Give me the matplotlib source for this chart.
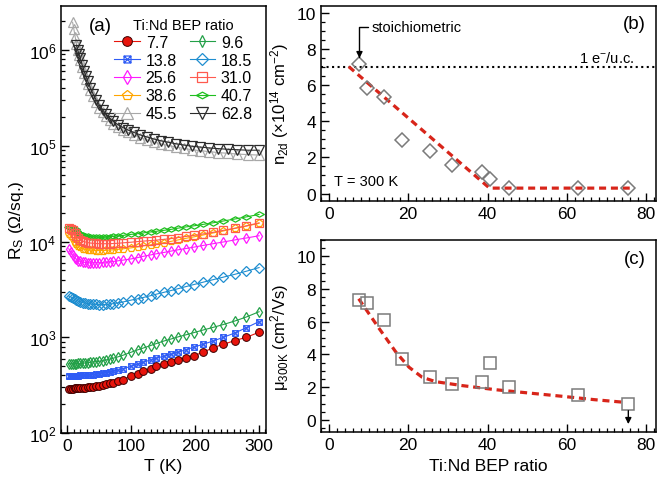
import numpy as np
import matplotlib.pyplot as plt
from matplotlib.path import Path
from matplotlib.ticker import MultipleLocator, LogLocator, NullFormatter

plt.rcParams['font.family'] = ['Liberation Sans', 'DejaVu Sans']
plt.rcParams['mathtext.fontset'] = 'custom'
plt.rcParams['mathtext.rm'] = 'Liberation Sans'
plt.rcParams['mathtext.it'] = 'Liberation Sans:italic'
plt.rcParams['mathtext.default'] = 'regular'
plt.rcParams['axes.linewidth'] = 1.1

# ---- panel (a): sheet resistance vs temperature ----
T = [2, 5, 8, 11, 14, 17, 20, 24, 28, 32, 36, 40, 45, 50, 55, 60, 66, 72, 79, 87,
     100, 110, 118, 130, 139, 151, 162, 173, 185, 198, 212, 228, 244, 262, 280, 300]

rs_7p7 = [292, 292, 292, 293, 293, 294, 295, 297, 299, 301, 303, 306, 309, 313, 318, 323, 330, 337, 346, 360,
          396, 418, 440, 472, 500, 525, 553, 580, 615, 645, 695, 780, 845, 925, 1000, 1130]
rs_9p6 = [530, 530, 530, 531, 532, 533, 535, 538, 541, 544, 548, 552, 557, 563, 570, 580, 592, 606, 625, 650,
          700, 740, 770, 820, 860, 915, 960, 1010, 1060, 1120, 1190, 1270, 1360, 1480, 1630, 1850]
rs_13p8 = [398, 398, 398, 398, 399, 399, 400, 401, 402, 403, 405, 407, 410, 414, 419, 425, 433, 443, 455, 470,
           500, 525, 548, 580, 605, 635, 665, 700, 740, 790, 845, 915, 1000, 1110, 1260, 1460]
rs_18p5 = [2700, 2650, 2580, 2500, 2440, 2390, 2350, 2310, 2280, 2250, 2230, 2215, 2205, 2200, 2200, 2210,
           2225, 2250, 2290, 2340, 2450, 2530, 2600, 2720, 2820, 2950, 3080, 3220, 3380, 3560, 3760, 4000,
           4250, 4550, 4900, 5350]
rs_25p6 = [8400, 7800, 7200, 6800, 6500, 6300, 6200, 6100, 6050, 6000, 6000, 6000, 6000, 6000, 6050, 6100,
           6150, 6200, 6300, 6400, 6600, 6800, 7000, 7250, 7450, 7700, 7950, 8200, 8450, 8750, 9100, 9500,
           9900, 10400, 10900, 11500]
rs_31p0 = [13700, 13600, 13200, 12300, 11400, 10800, 10400, 10100, 9900, 9750, 9650, 9600, 9550, 9500, 9500,
           9500, 9500, 9550, 9600, 9700, 9850, 10000, 10100, 10250, 10350, 10550, 10750, 11000, 11300, 11600,
           12000, 12500, 13100, 13800, 14600, 15700]
rs_38p6 = [12000, 11500, 10800, 10000, 9400, 9000, 8700, 8450, 8300, 8200, 8150, 8100, 8050, 8050, 8050, 8100,
           8150, 8200, 8300, 8400, 8600, 8800, 9000, 9250, 9450, 9750, 10050, 10400, 10800, 11200, 11700,
           12300, 12900, 13700, 14500, 15500]
rs_40p7 = [14300, 14200, 14000, 13500, 12900, 12400, 12000, 11700, 11500, 11350, 11250, 11200, 11150, 11150,
           11150, 11200, 11250, 11350, 11450, 11600, 11900, 12100, 12300, 12600, 12800, 13100, 13400, 13800,
           14200, 14600, 15100, 15700, 16400, 17200, 18100, 19200]

T_hi = [8, 10, 12, 14, 16, 18, 20, 23, 26, 29, 32, 36, 40, 45, 50, 55, 60, 66, 72, 79, 87, 95, 104, 114,
        124, 135, 146, 158, 170, 182, 195, 208, 222, 236, 251, 266, 282, 300]
rs_45p5 = [1.95e6, 1.65e6, 1.38e6, 1.17e6, 1.0e6, 8.8e5, 7.8e5, 6.6e5, 5.7e5, 5.0e5, 4.4e5, 3.8e5, 3.3e5,
           2.85e5, 2.5e5, 2.25e5, 2.05e5, 1.85e5, 1.7e5, 1.57e5, 1.47e5, 1.38e5, 1.3e5, 1.22e5, 1.16e5,
           1.1e5, 1.05e5, 1.01e5, 9.7e4, 9.4e4, 9.1e4, 8.9e4, 8.7e4, 8.5e4, 8.35e4, 8.2e4, 8.1e4, 8.0e4]
rs_62p8 = [np.nan, np.nan, np.nan, 1.12e6, 1.0e6, 9.0e5, 8.2e5, 7.0e5, 6.0e5, 5.3e5, 4.7e5, 4.0e5, 3.5e5,
           3.0e5, 2.65e5, 2.38e5, 2.15e5, 1.95e5, 1.8e5, 1.66e5, 1.55e5, 1.46e5, 1.38e5, 1.3e5, 1.24e5,
           1.18e5, 1.13e5, 1.09e5, 1.05e5, 1.02e5, 9.9e4, 9.7e4, 9.5e4, 9.35e4, 9.2e4, 9.1e4, 9.0e4, 9.0e4]

# ---- panels (b), (c): vs Ti:Nd BEP ratio ----
ratio = [7.7, 9.6, 13.8, 18.5, 25.6, 31.0, 38.6, 40.7, 45.5, 62.8, 75.5]
n2d = [7.18, 5.85, 5.37, 2.96, 2.33, 1.59, 1.22, 0.79, 0.31, 0.33, 0.29]
mu = [7.30, 7.16, 6.13, 3.73, 2.61, 2.20, 2.34, 3.49, 2.04, 1.55, 0.98]

n2d_guide_x = [5.0, 40.5, 77.0]
n2d_guide_y = [7.03, 0.30, 0.30]
mu_guide_x = [7.5, 12.7, 16.9, 20.2, 23.5, 26.9, 33.6, 42.0, 50.3, 58.7, 67.0, 74.5]
mu_guide_y = [7.40, 5.57, 4.14, 3.22, 2.61, 2.34, 2.10, 1.85, 1.65, 1.45, 1.24, 1.08]

# custom markers
sq_x = Path([(-1, -1), (1, -1), (1, 1), (-1, 1), (-1, -1), (-1, -1), (1, 1), (-1, 1), (1, -1)],
            [Path.MOVETO, Path.LINETO, Path.LINETO, Path.LINETO, Path.CLOSEPOLY,
             Path.MOVETO, Path.LINETO, Path.MOVETO, Path.LINETO])
wide_d = [(-1, 0), (0, 0.55), (1, 0), (0, -0.55), (-1, 0)]

fig = plt.figure(figsize=(6.57, 4.85), dpi=100)
ax_a = fig.add_axes([0.093, 0.105, 0.312, 0.881])
ax_b = fig.add_axes([0.4886, 0.584, 0.51, 0.402])
ax_c = fig.add_axes([0.4886, 0.1066, 0.51, 0.397])

# label, x, y, color, marker, size
series = [
    ('45.5', T_hi, rs_45p5, '#a8a8a8', '^', 7.0),
    ('62.8', T_hi, rs_62p8, '#2b2b2b', 'v', 7.0),
    ('40.7', T, rs_40p7, '#1fbf1f', wide_d, 7.0),
    ('38.6', T, rs_38p6, '#ffa500', 'p', 5.5),
    ('31.0', T, rs_31p0, '#ff5a4e', 's', 5.2),
    ('25.6', T, rs_25p6, '#ff1aff', 'd', 5.6),
    ('18.5', T, rs_18p5, '#1f8ed0', 'D', 5.0),
    ('9.6', T, rs_9p6, '#23a048', 'd', 4.6),
    ('13.8', T, rs_13p8, '#2f5cf5', sq_x, 4.0),
]
handles = {}
for lab, x, y, col, mk, ms in series:
    h, = ax_a.plot(x, y, color=col, lw=0.8, marker=mk, ms=ms, mfc='none', mec=col, mew=0.9, label=lab)
    handles[lab] = h
h, = ax_a.plot(T, rs_7p7, color='#e8140c', lw=0.8, marker='o', ms=5.6, mfc='#e8140c', mec='#3a0000',
               mew=0.7, label='7.7')
handles['7.7'] = h

ax_a.set_yscale('log')
ax_a.set_ylim(100, 2.9e6)
ax_a.set_xlim(-10, 311)
ax_a.xaxis.set_major_locator(MultipleLocator(100))
ax_a.xaxis.set_minor_locator(MultipleLocator(10))
ax_a.yaxis.set_minor_locator(LogLocator(base=10, subs=np.arange(2, 10)))
ax_a.yaxis.set_minor_formatter(NullFormatter())
ax_a.set_xlabel('T (K)', fontsize=12.5)
ax_a.set_ylabel(r'R$_S$ ($\Omega$/sq.)', fontsize=12.5, labelpad=2)
ax_a.text(0.19, 0.955, '(a)', transform=ax_a.transAxes, fontsize=13.5, ha='center', va='center')

order = ['7.7', '13.8', '25.6', '38.6', '45.5', '9.6', '18.5', '31.0', '40.7', '62.8']
leg = ax_a.legend([handles[k] for k in order], order, ncol=2, loc='upper right',
                  bbox_to_anchor=(0.99, 1.0), frameon=False, fontsize=11.5, title='Ti:Nd BEP ratio',
                  title_fontsize=10.5, handlelength=1.6, handletextpad=0.35, columnspacing=0.8,
                  labelspacing=0.18, markerscale=1.25, borderpad=0.25)

# panel (b)
ax_b.axhline(7, color='black', ls=':', lw=1.5)
ax_b.plot(n2d_guide_x, n2d_guide_y, color='#d8251a', lw=2.3, dashes=(2.2, 1.5))
ax_b.plot(ratio, n2d, ls='none', marker='D', ms=7.6, mfc='none', mec='#7a7a7a', mew=1.1)
ax_b.set_xlim(-2, 82.5)
ax_b.set_ylim(-0.4, 10.4)
ax_b.set_ylabel(r'n$_{2d}$ ($\times$10$^{14}$ cm$^{-2}$)', fontsize=12, labelpad=4)
ax_b.annotate('stoichiometric', xy=(7.7, 7.5), xytext=(10.8, 9.2), fontsize=10.5, va='center', ha='left',
              arrowprops=dict(arrowstyle='-|>', connectionstyle='angle,angleA=180,angleB=90,rad=0',
                              color='black', lw=1, shrinkA=1, shrinkB=0, relpos=(0, 0.5),
                              mutation_scale=9))
ax_b.text(77, 7.55, r'1 e$^{-}$/u.c.', fontsize=10.5, ha='right', va='center')
ax_b.text(1.4, 0.72, 'T = 300 K', fontsize=10.5, ha='left', va='center')
ax_b.text(80, 9.4, '(b)', fontsize=13.5, ha='right', va='center')

# panel (c)
ax_c.plot(mu_guide_x, mu_guide_y, color='#d8251a', lw=2.3, dashes=(2.2, 1.5))
ax_c.plot(ratio, mu, ls='none', marker='s', ms=9.0, mfc='none', mec='#7a7a7a', mew=1.1)
ax_c.annotate('', xy=(75.5, -0.25), xytext=(75.5, 0.57),
              arrowprops=dict(arrowstyle='-|>', color='black', lw=1, shrinkA=0, shrinkB=0,
                              mutation_scale=9))
ax_c.set_xlim(-2, 82.5)
ax_c.set_ylim(-0.75, 11.0)
ax_c.set_xlabel('Ti:Nd BEP ratio', fontsize=12.5)
ax_c.set_ylabel(r'$\mu_{300K}$ (cm$^{2}$/Vs)', fontsize=12, labelpad=4)
ax_c.text(80, 9.85, '(c)', fontsize=13.5, ha='right', va='center')

for ax in (ax_b, ax_c):
    ax.xaxis.set_major_locator(MultipleLocator(20))
    ax.xaxis.set_minor_locator(MultipleLocator(2))
    ax.yaxis.set_major_locator(MultipleLocator(2))
    ax.yaxis.set_minor_locator(MultipleLocator(0.5))

for ax in (ax_a, ax_b, ax_c):
    ax.tick_params(which='both', direction='in', top=False, right=False, labelsize=12.5)
    ax.tick_params(which='major', length=5.5, width=1)
    ax.tick_params(which='minor', length=3, width=0.9)

plt.savefig('out.png', dpi=100)
